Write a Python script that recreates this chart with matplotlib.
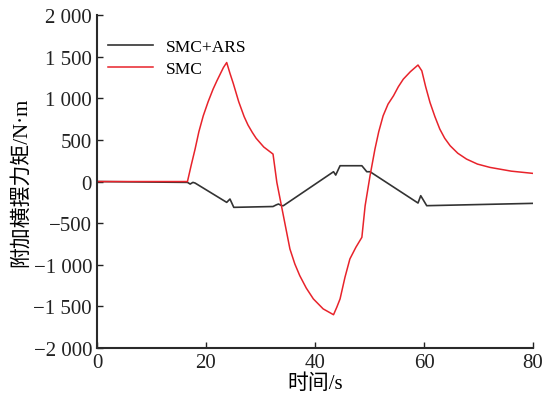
import matplotlib.pyplot as plt
from matplotlib.ticker import FuncFormatter

# time points and torque values
t_ars = [0, 16.6, 17.1, 17.6, 18.0, 23.8, 24.4, 25.1, 32.3, 32.9, 33.3, 33.9, 34.2,
         43.4, 43.8, 44.6, 48.6, 49.5, 50.1, 58.9, 59.4, 60.5, 80]
m_ars = [0, -10, -30, -10, -18, -250, -210, -310, -300, -280, -270, -290, -290,
         118, 78, 190, 190, 118, 118, -258, -170, -290, -262]

t_smc = [0, 16.6, 17.3, 18.0, 18.7, 19.5, 20.4, 21.3, 22.0, 22.6, 23.2, 23.8,
         24.4, 25.0, 25.5, 26.0, 26.5, 27.0, 27.7, 28.5, 29.2, 30.0, 30.6, 31.3, 31.8, 32.3,
         33.0, 33.6, 34.2, 34.8, 35.4, 36.3, 37.2, 38.4, 39.7, 41.5, 43.4,
         44.0, 44.6, 45.5, 46.4, 47.5, 48.6, 49.2, 50.1, 51.0,
         51.7, 52.5, 53.4, 54.4, 55.3, 56.2, 57.5, 58.9, 59.2, 59.6,
         60.3, 61.1, 62.0, 62.9, 63.8, 64.8, 66.2, 67.8, 69.8, 72.1, 76.0, 80]
m_smc = [0, 0, 200, 390, 600, 790, 960, 1110, 1210, 1290, 1370, 1430,
         1300, 1180, 1070, 960, 870, 780, 680, 590, 520, 460, 415, 380, 355, 330,
         -10, -210, -410, -610, -810, -990, -1130, -1280, -1410, -1530, -1600,
         -1510, -1410, -1150, -930, -790, -670, -290, 70, 390,
         600, 790, 930, 1030, 1140, 1230, 1320, 1400, 1370, 1330,
         1140, 950, 780, 630, 520, 430, 340, 270, 210, 170, 125, 98]

x_ticks = [0, 20, 40, 60, 80]
y_ticks = [-2000, -1500, -1000, -500, 0, 500, 1000, 1500, 2000]

plt.rcParams['font.family'] = ['Liberation Serif', 'Noto Sans CJK SC']


def fmt(v, pos):
    s = f"{abs(v):,.0f}".replace(',', ' ')
    return ('\u2212' + s) if v < 0 else s


fig = plt.figure(figsize=(5.43, 4.02), dpi=100)
ax = fig.add_axes([0.1786, 0.1318, 0.803, 0.8282])

ax.plot(t_ars, m_ars, color='#333333', lw=1.2, label='SMC+ARS')
ax.plot(t_smc, m_smc, color='#e8232b', lw=1.1, label='SMC')

ax.set_xlim(0, 80)
ax.set_ylim(-2000, 2000)
ax.set_xticks(x_ticks)
ax.set_yticks(y_ticks)
ax.yaxis.set_major_formatter(FuncFormatter(fmt))
ax.tick_params(direction='in', length=4, width=1, labelsize=15, colors='#222222')

for side in ['top', 'right']:
    ax.spines[side].set_visible(False)
for side in ['left', 'bottom']:
    ax.spines[side].set_linewidth(1.5)
    ax.spines[side].set_color('#2a2a2a')

ax.set_xlabel('时间/s', fontsize=15, labelpad=1)
ax.set_ylabel('附加横摆力矩/N·m', fontsize=15, labelpad=2)

ax.legend(loc='upper left', frameon=False, fontsize=12.5, handlelength=2.6,
          labelspacing=0.35, handletextpad=0.7,
          borderaxespad=0.0, bbox_to_anchor=(0.01, 0.95))

fig.savefig('out.png', dpi=100)
